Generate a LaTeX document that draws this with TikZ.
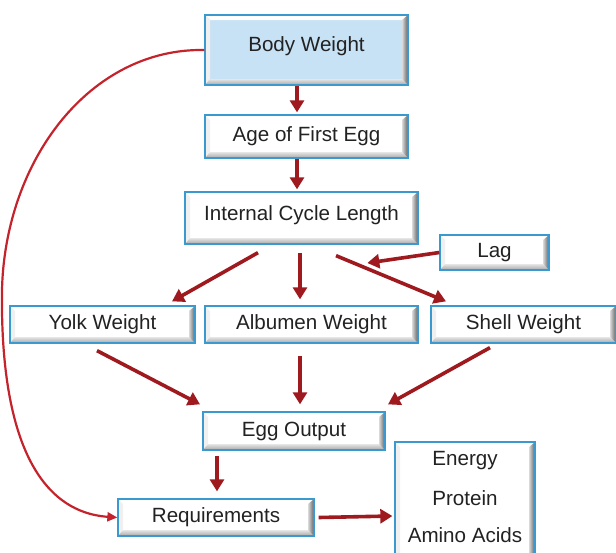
\documentclass[tikz,border=0pt]{standalone}
\usepackage{fontspec}
\setmainfont{Liberation Sans}
\usetikzlibrary{arrows.meta,calc}
\definecolor{bord}{HTML}{3A9AD0}
\definecolor{bluefill}{HTML}{C8E2F5}
\definecolor{arrred}{HTML}{9E1A1F}
\definecolor{curvered}{HTML}{C4232C}
\definecolor{txt}{HTML}{222222}
\definecolor{edgedark}{HTML}{2E3E4A}
\begin{document}
\begin{tikzpicture}[x=1pt,y=-1pt,
  bevel/.style={draw=bord, line width=1.3pt, fill=#1, text=txt,
    font=\fontsize{20.6}{24}\selectfont, inner sep=0pt,
    path picture={
      \coordinate (sw) at (path picture bounding box.south west);
      \coordinate (se) at (path picture bounding box.south east);
      \coordinate (nw) at (path picture bounding box.north west);
      \coordinate (ne) at (path picture bounding box.north east);
      \fill[white] (nw) -- (ne) -- ([shift={(-6pt,-5pt)}]ne) -- ([shift={(5pt,-5pt)}]nw) -- cycle;
      \fill[white!88!gray] (nw) -- (sw) -- ([shift={(5pt,6pt)}]sw) -- ([shift={(5pt,-5pt)}]nw) -- cycle;
      \shade[top color=white!80!gray, bottom color=gray!70] (sw) -- (se) -- ([shift={(-6pt,6pt)}]se) -- ([shift={(5pt,6pt)}]sw) -- cycle;
      \shade[left color=gray!30, right color=gray!75!black] (ne) -- (se) -- ([shift={(-6pt,6pt)}]se) -- ([shift={(-6pt,-5pt)}]ne) -- cycle;
      \draw[line width=1.4pt, edgedark] (ne) -- (se);
    }},
  arr/.style={draw=arrred, line width=3.6pt, -{Triangle[length=12pt,width=14pt]}},
  plain/.style={text=txt, font=\fontsize{20.6}{24}\selectfont, inner sep=0pt}
]
\useasboundingbox (0,0) rectangle (616,552);

\node[bevel=bluefill, minimum width=203pt, minimum height=70pt] (body) at (306.5,50) {\raisebox{12pt}{Body Weight}};
\node[bevel=white, minimum width=203pt, minimum height=43pt] (age) at (306.5,136.5) {Age of First Egg};
\node[bevel=white, minimum width=233pt, minimum height=52pt] (icl) at (301.5,218) {\raisebox{9pt}{Internal Cycle Length}};
\node[bevel=white, minimum width=109pt, minimum height=35pt] (lag) at (494.5,252.5) {Lag};
\node[bevel=white, minimum width=185pt, minimum height=37pt] (yolk) at (102.5,324.5) {Yolk Weight};
\node[bevel=white, minimum width=213pt, minimum height=37pt] (alb) at (311.5,324.5) {Albumen Weight};
\node[bevel=white, minimum width=185pt, minimum height=37pt] (shell) at (523.5,324.5) {Shell Weight};
\node[bevel=white, minimum width=182pt, minimum height=38pt] (egg) at (294,431) {Egg Output};
\node[bevel=white, minimum width=196pt, minimum height=37pt] (req) at (216,517.5) {Requirements};
\node[bevel=white, minimum width=140pt, minimum height=120pt] (nut) at (465,502) {};
\node[plain] (energy) at (465,461) {Energy};
\node[plain] (protein) at (465,498) {Protein};
\node[plain] (amino) at (465,535) {Amino Acids};

\coordinate (lagend) at ($(lag.west)+(-72,10.5)$);

\draw[arr] ($(body.south)+(-9.5,0)$) -- ($(age.north)+(-9.5,-2)$);
\draw[arr] ($(age.south)+(-9.5,0)$) -- ($(icl.north)+(-4.5,-2)$);
\draw[arr] ($(icl.south)+(-43.5,8)$) -- ($(yolk.north)+(69.5,-4)$);
\draw[arr] ($(icl.south)+(-1.5,8)$) -- ($(alb.north)+(-11.5,-6)$);
\draw[arr] ($(icl.south)+(34.5,11)$) -- ($(shell.north)+(-77.5,-4)$);
\draw[arr] (lag.west) -- (lagend);
\draw[arr] ($(yolk.south)+(-5.5,7)$) -- ($(egg.north)+(-94,-7)$);
\draw[arr] ($(alb.south)+(-11.5,12)$) -- ($(egg.north)+(6,-7)$);
\draw[arr] ($(shell.south)+(-33.5,4)$) -- ($(egg.north)+(94,-7)$);
\draw[arr] ($(egg.south)+(-77,5)$) -- ($(req.north)+(1,-7)$);
\draw[arr] ($(req.east)+(4,0)$) -- ($(nut.west)+(-2,14)$);

\draw[curvered, line width=2.2pt, -{Triangle[length=10pt,width=9pt]}]
  (body.west) .. controls (90,48) and (5,160) .. (2,290)
  .. controls (0,440) and (40,512) .. (req.west);
\end{tikzpicture}
\end{document}
